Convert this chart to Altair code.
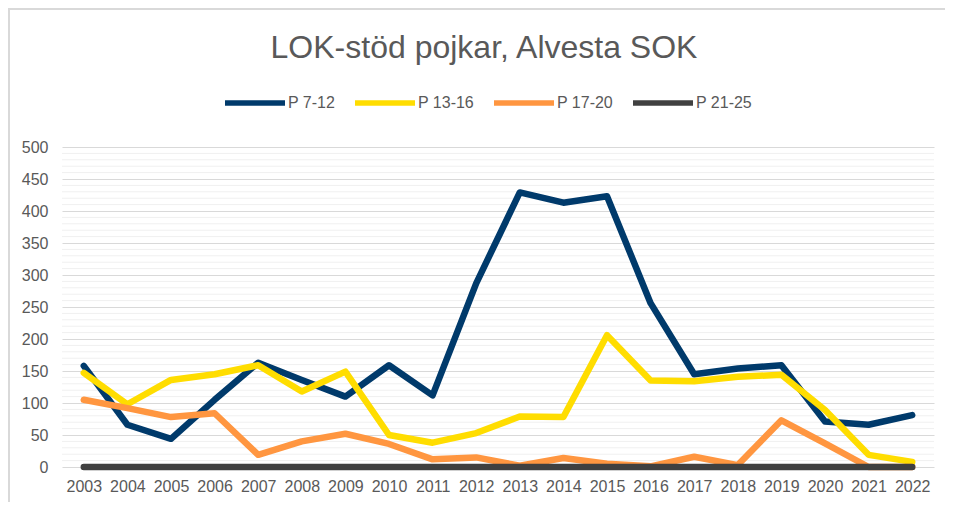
import altair as alt
import pandas as pd

years = [str(y) for y in range(2003, 2023)]
series = ["P 7-12", "P 13-16", "P 17-20", "P 21-25"]
colors = ["#003A6B", "#FFDD00", "#FF9640", "#404040"]

p7_12 = [158, 66, 44, 105, 163, 136, 110, 159, 112, 287, 429, 413, 423, 256, 145, 154, 159, 71, 66, 81]
p13_16 = [147, 98, 136, 145, 159, 118, 149, 50, 38, 53, 79, 78, 206, 135, 134, 141, 144, 89, 19, 8]
p17_20 = [105, 92, 78, 84, 19, 40, 52, 36, 12, 15, 2, 14, 5, 1, 16, 3, 73, 37, 0, 0]
p21_25 = [0, 0, 0, 0, 0, 0, 0, 0, 0, 0, 0, 0, 0, 0, 0, 0, 0, 0, 0, 0]

rows = []
for name, vals in zip(series, [p7_12, p13_16, p17_20, p21_25]):
    for yr, v in zip(years, vals):
        rows.append({"År": yr, "Serie": name, "Värde": v})
df = pd.DataFrame(rows)

minor_grid = [v for v in range(10, 500, 10) if v % 50 != 0]

FONT = "Liberation Sans"
TXT = "#595959"

y_scale = alt.Scale(domain=[0, 500], nice=False)
x_scale = alt.Scale(type="point", padding=0.5)
y_axis = alt.Axis(values=list(range(0, 501, 50)), grid=True,
                  gridColor="#d9d9d9", gridWidth=1, domain=False,
                  ticks=False, labelFont=FONT, labelFontSize=16,
                  labelColor=TXT, labelPadding=14)

minor = alt.Chart(pd.DataFrame({"g": minor_grid})).mark_rule(
    color="#f0f0f0", strokeWidth=1
).encode(y=alt.Y("g:Q", scale=y_scale, axis=y_axis, title=None))

lines = alt.Chart(df).mark_line(
    strokeWidth=6.5, strokeCap="round", strokeJoin="round"
).encode(
    x=alt.X("År:O", scale=x_scale, sort=years, title=None,
            axis=alt.Axis(labelAngle=0, grid=False, domain=False, ticks=False,
                          labelFont=FONT, labelFontSize=16, labelColor=TXT,
                          labelPadding=11)),
    y=alt.Y("Värde:Q", scale=y_scale, title=None, axis=y_axis),
    color=alt.Color("Serie:N", scale=alt.Scale(domain=series, range=colors),
                    legend=alt.Legend(title=None, orient="none", direction="horizontal",
                                      legendX=160, legendY=-77,
                                      symbolType="stroke", symbolSize=3600,
                                      symbolStrokeWidth=5.5, labelFont=FONT,
                                      labelFontSize=16, labelColor=TXT,
                                      columnPadding=8, labelOffset=0)),
    detail="Serie:N",
)

border = alt.Chart(alt.Data(values=[{}])).mark_rule(color="#d9d9d9", strokeWidth=2).encode(
    x=alt.value(-54), x2=alt.value(900), y=alt.value(-138)
)
border_left = alt.Chart(alt.Data(values=[{}])).mark_rule(color="#d9d9d9", strokeWidth=2).encode(
    x=alt.value(-53), y=alt.value(-139), y2=alt.value(360)
)

chart = alt.layer(minor, lines, border, border_left).properties(
    width=872,
    height=320,
    title=alt.TitleParams("LOK-stöd pojkar, Alvesta SOK", font=FONT, fontSize=32,
                          fontWeight="normal", color=TXT, anchor="middle",
                          frame="group", dx=-14, dy=58, offset=0),
    autosize=alt.AutoSizeParams(type="none"),
    padding={"left": 54, "top": 139, "right": 11, "bottom": 35},
).configure_view(stroke=None)

chart.save("out.html", embed_options={"renderer": "svg", "actions": False})
